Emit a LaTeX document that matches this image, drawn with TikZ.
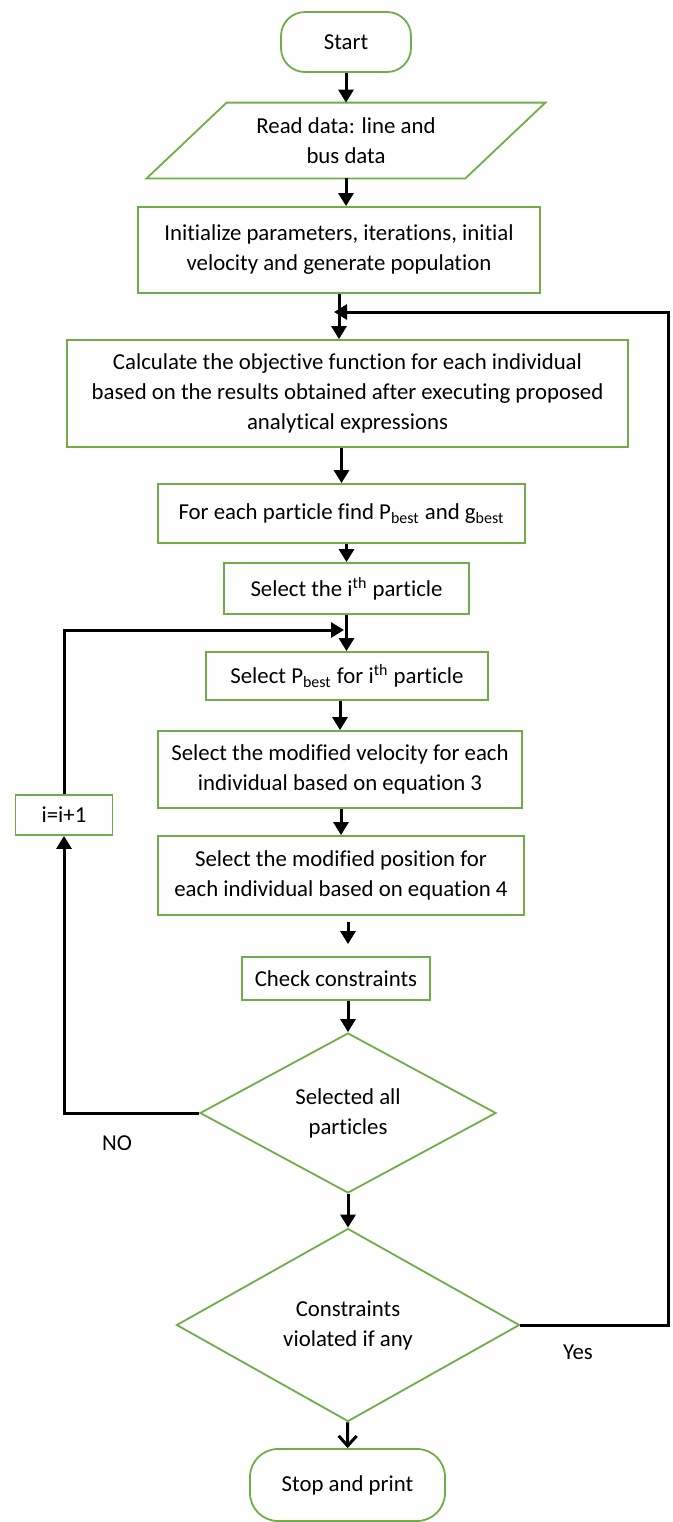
\documentclass[tikz,border=0pt]{standalone}
\usepackage{fontspec}
\setmainfont[Ligatures=NoCommon]{Carlito}
\usetikzlibrary{shapes.geometric,arrows.meta,calc}
\definecolor{boxgreen}{RGB}{112,173,71}

\begin{document}
\begin{tikzpicture}[x=0.5pt,y=-0.5pt,
  every node/.style={font=\fontsize{11.4}{15}\selectfont},
  box/.style={draw=boxgreen,line width=0.9pt,align=center,inner sep=0pt},
  term/.style={box,rounded corners=12pt},
  dec/.style={box,diamond,aspect=1.8},
  arr/.style={line width=1.5pt,-{Triangle[length=6.5pt,width=7.5pt]}},
  barb/.style={line width=1.5pt,-{Straight Barb[length=5pt,width=9pt]}}]
\useasboundingbox (0,0) rectangle (673,1522);

\node[term,minimum width=65pt,minimum height=30pt] (start) at (346,42) {Start};
\node[align=center,inner sep=0pt,minimum width=159pt,minimum height=37.5pt] (read) at (346,140.5) {Read data: line and\\bus data};
\draw[draw=boxgreen,line width=0.9pt] ($(read.north west)+(40,0)$) -- ($(read.north east)+(40,0)$)
  -- ($(read.south east)+(-40,0)$) -- ($(read.south west)+(-40,0)$) -- cycle;
\node[box,minimum width=201pt,minimum height=43pt] (init) at (339,250) {Initialize parameters, iterations, initial\\velocity and generate population};
\node[box,minimum width=280.5pt,minimum height=53.5pt] (calc) at (347.5,393.5) {Calculate the objective function for each individual\\based on the results obtained after executing proposed\\analytical expressions};
\node[box,minimum width=183.5pt,minimum height=29.5pt] (best) at (341.5,513.5) {For each particle find P\textsubscript{best} and g\textsubscript{best}};
\node[box,minimum width=122.5pt,minimum height=25.5pt] (ith) at (346.5,588.5) {Select the i\textsuperscript{th} particle};
\node[box,minimum width=141pt,minimum height=24pt] (pbest) at (347,676) {Select P\textsubscript{best} for i\textsuperscript{th} particle};
\node[box,minimum width=182pt,minimum height=38.5pt] (vel) at (340,769.5) {Select the modified velocity for each\\individual based on equation 3};
\node[box,minimum width=183pt,minimum height=39.5pt] (pos) at (341,875.5) {Select the modified position for\\each individual based on equation 4};
\node[box,minimum width=94pt,minimum height=21.5pt] (chk) at (336,978.5) {Check constraints};
\node[dec,minimum width=148pt,minimum height=80pt] (sel) at (348,1113) {Selected all\\particles};
\node[dec,minimum width=171.5pt,minimum height=96.5pt] (viol) at (348,1325) {Constraints\\violated if any};
\node[term,minimum width=97.5pt,minimum height=36pt,rounded corners=14pt] (stop) at (347.5,1485) {Stop and print};
\node[box,minimum width=48.5pt,minimum height=20pt] (inc) at (64,815) {i=i+1};
\node (no) at (117,1143) {NO};
\node (yes) at (578,1352) {Yes};

\coordinate (back) at (334,312);
\coordinate (rgt) at (668,312);
\coordinate (join) at (344,630);

\draw[arr] (start) -- (start |- read.north);
\draw[arr] (read) -- (read |- init.north);
\draw[arr] (init) -- (init |- calc.north);
\draw[arr] (calc.south -| best) -- (best);
\draw[arr] (best.south -| ith) -- (ith);
\draw[arr] (ith) -- (ith |- pbest.north);
\draw[arr] (pbest.south -| vel) -- (vel);
\draw[arr] (vel.south -| pos) -- (pos);
\draw[arr,shorten <=3pt,shorten >=6pt] (pos.south -| sel) -- (sel |- chk.north);
\draw[arr] (chk.south -| sel) -- (sel);
\draw[arr] (sel) -- (viol);
\draw[barb] (viol) -- (stop);
\draw[arr] (sel.west) -| (inc);
\draw[arr] (inc) |- (join);
\draw[arr] (viol.east) -| (rgt) -- (back);
\end{tikzpicture}
\end{document}
